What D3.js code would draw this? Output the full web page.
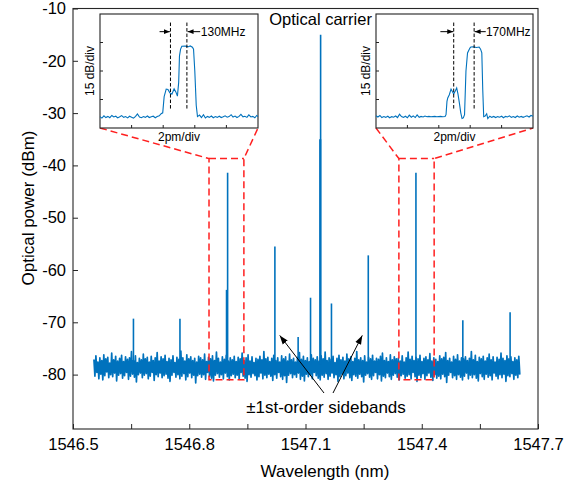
<!DOCTYPE html>
<html><head><meta charset="utf-8">
<script src="https://cdn.jsdelivr.net/npm/d3@7"></script>
<style>body{margin:0;background:#fff} text{font-family:"Liberation Sans",Arial,sans-serif;fill:#000}</style>
</head><body><svg id="c" width="580" height="491"></svg>
<script>
// ---------- data ----------
const xTicks = [1546.5,1546.65,1546.8,1546.95,1547.1,1547.25,1547.4,1547.55,1547.7];
const xTickLabels = ["1546.5","","1546.8","","1547.1","","1547.4","","1547.7"];
const yTicks = [-10,-20,-30,-40,-50,-60,-70,-80];
const yTickLabels = ["-10","-20","-30","-40","-50","-60","-70","-80"];

// spectral lines (wavelength nm, peak dBm)
const peakWl  = [1546.656,1546.776,1546.899,1547.021,1547.081,1547.113,1547.139,1547.167,1547.262,1547.385,1547.506,1547.628];
const peakDbm = [-69.3,-69.3,-41.4,-55.5,-72.8,-65.3,-15.0,-66.4,-57.2,-41.4,-69.6,-68.1];
// broader pedestals at the bottom of some lines
const pedWl  = [1546.897,1547.138];
const pedDbm = [-63.8,-35];
const lineBase = -78;

// noise floor trace (dBm), sampled evenly from noiseStart to noiseEnd
const noiseStart = 1546.554, noiseEnd = 1547.653;
const noise = [
-77.1,-80.3,-76.4,-79.6,-77.6,-80.8,-76.8,-79.9,-77.3,-81.0,-76.2,-80.2,
-77.0,-79.5,-76.7,-80.6,-77.8,-80.0,-75.9,-80.4,-77.2,-79.7,-76.5,-81.2,
-77.4,-80.1,-76.9,-79.8,-76.3,-80.7,-77.5,-80.2,-76.6,-79.6,-77.1,-80.9,
-76.8,-80.3,-75.6,-79.9,-77.3,-80.5,-76.4,-81.4,-77.7,-80.0,-76.9,-79.7,
-77.2,-80.6,-76.1,-80.1,-77.0,-79.8,-76.7,-80.8,-77.6,-80.3,-76.5,-79.6,
-77.3,-81.1,-76.8,-80.0,-75.8,-80.4,-77.4,-79.7,-76.6,-80.6,-77.0,-80.2,
-76.3,-79.9,-77.5,-80.7,-76.9,-81.3,-77.2,-80.1,-76.4,-79.6,-77.7,-80.5,
-76.7,-80.0,-77.1,-80.8,-75.5,-80.3,-76.8,-79.8,-77.4,-81.0,-76.2,-80.4,
-77.0,-79.7,-76.6,-80.6,-77.3,-80.1,-76.9,-81.6,-77.6,-80.2,-76.5,-79.9,
-76.8,-80.5,-77.2,-80.0,-76.1,-80.9,-77.5,-79.6,-76.7,-80.3,-77.0,-80.7,
-76.4,-81.2,-77.3,-80.1,-75.7,-79.8,-76.9,-80.5,-77.6,-80.0,-76.6,-80.8,
-77.1,-79.7,-76.3,-80.4,-77.4,-81.0,-76.8,-80.2,-77.2,-79.9,-76.5,-80.6,
-77.5,-80.1,-76.7,-80.9,-77.0,-79.6,-75.9,-80.3,-77.3,-80.7,-76.8,-81.3,
-76.2,-80.0,-77.4,-80.5,-76.6,-79.8,-77.7,-80.2,-76.9,-81.0,-77.1,-80.4,
-76.5,-79.7,-77.2,-80.8,-75.6,-80.1,-77.0,-80.6,-76.7,-79.9,-77.5,-80.3,
-76.9,-81.1,-76.3,-80.0,-77.3,-80.7,-76.8,-79.6,-77.6,-80.4,-76.4,-80.9,
-77.0,-80.2,-76.6,-81.5,-77.4,-80.1,-76.1,-79.8,-77.2,-80.6,-76.9,-80.0,
-77.6,-80.5,-76.7,-79.7,-75.8,-80.9,-77.1,-80.3,-76.5,-81.2,-77.3,-79.9,
-76.8,-80.4,-77.5,-80.0,-76.2,-80.8,-76.9,-79.6,-77.2,-80.2,-76.6,-80.7,
-77.4,-81.0,-76.4,-80.1,-77.0,-80.5,-75.7,-79.8,-77.3,-80.9,-76.8,-80.3,
-77.1,-79.7,-76.5,-80.6,-77.7,-80.0,-76.9,-81.3,-76.3,-80.4,-77.2,-79.9,
-76.7,-80.8,-77.4,-80.2,-76.1,-79.7,-77.0,-80.6,-76.6,-81.1,-77.5,-80.0,
-76.9,-80.3,-75.6,-80.7,-77.2,-79.9,-76.8,-80.4,-77.3,-81.4,-76.4,-80.1,
-77.6,-79.8,-76.7,-80.5,-77.0,-80.9,-76.3,-80.2,-77.4,-79.6,-76.9,-80.8,
-77.1,-80.0,-76.5,-81.2,-75.9,-80.3,-77.3,-80.6,-76.8,-79.7,-77.5,-80.4,
-76.2,-80.9,-77.2,-80.1,-76.6,-79.8,-77.0,-80.5,-76.9,-81.0,-77.4,-80.2,
-76.4,-79.9,-77.6,-80.7,-76.8,-80.3,-75.7,-80.0,-77.1,-80.8,-76.5,-79.6,
-77.3,-80.4,-76.7,-81.3,-77.0,-80.1,-76.3,-80.6,-77.5,-79.8,-76.9,-80.9,
-76.6,-80.2,-77.2,-79.7,-76.0,-80.5,-77.4,-81.1,-76.8,-80.0,-77.1,-80.7,
-77.5,-80.3,-76.4,-80.8,-77.0,-79.9,-76.7,-80.4,-75.8,-81.5,-77.3,-80.1,
-76.9,-79.6,-77.6,-80.6,-76.5,-80.2,-77.1,-80.9,-76.2,-80.0,-77.4,-80.5,
-76.8,-81.0,-77.0,-80.3,-76.6,-79.7,-77.3,-80.8,-76.9,-80.1,-75.6,-80.6,
-77.2,-80.0,-76.3,-80.7,-77.5,-81.2,-76.7,-79.8,-77.0,-80.4,-76.5,-80.9,
-77.4,-79.9,-76.8,-80.5,-76.1,-80.2,-77.2,-81.0,-76.6,-79.7,-77.6,-80.3,
-76.7,-80.8,-77.1,-80.0,-75.9,-80.6,-76.9,-79.9,-77.3,-81.3,-76.4,-80.2,
-77.0,-80.4,-76.6,-79.8,-77.5,-80.9,-76.8,-80.1,-77.2,-80.6,-76.5,-80.0];

// zoom boxes (wavelength range, dBm range)
const zoomBoxes = [
  {wl:[1546.851,1546.941], db:[-38.7,-81]},
  {wl:[1547.341,1547.432], db:[-38.7,-81]}
];

// inset traces: [pm, dB]
const insetLeftTrace = [[0,6.0],[0.12,5.2],[0.25,6.4],[0.37,5.5],[0.5,6.1],[0.62,5.4],[0.75,6.6],[0.87,5.8],[1.0,6.2],[1.12,5.3],[1.25,5.9],[1.37,6.5],[1.5,5.6],[1.62,6.0],[1.75,5.3],[1.87,6.2],[2.0,5.7],[2.12,5.2],[2.25,6.1],[2.37,7.4],[2.5,5.8],[2.62,5.4],[2.75,6.0],[2.87,5.6],[3.0,6.3],[3.12,5.5],[3.25,5.9],[3.37,6.2],[3.5,5.4],[3.62,6.0],[3.75,6.4],[3.87,7.5],
[3.97,8],[4.06,16.5],[4.19,20.5],[4.3,20.3],[4.42,18.5],[4.55,17.8],[4.69,20.6],[4.8,19],[4.9,16.8],[4.98,24],[5.03,38],[5.1,41.5],[5.18,43],[5.4,43.1],[5.6,42.8],[5.71,43.2],[5.85,42.5],[5.92,41.5],[6.0,30],[6.09,12],[6.17,6.0],
[6.3,6.8],[6.42,5.5],[6.55,7.0],[6.67,5.3],[6.8,6.1],[6.92,5.6],[7.05,6.3],[7.17,5.4],[7.3,6.0],[7.42,5.6],[7.55,6.2],[7.67,5.5],[7.8,5.9],[7.92,6.4],[8.05,5.7],[8.17,6.0],[8.3,7.0],[8.42,5.8],[8.55,6.3],[8.67,5.5],[8.8,6.1],[8.92,7.2],[9.05,5.9],[9.17,6.2],[9.3,5.6],[9.42,6.9],[9.55,5.8],[9.67,6.1],[9.8,5.4],[9.92,6.6],[10,6.0]];
const insetRightTrace = [[0,6.4],[0.12,5.8],[0.25,6.6],[0.37,5.5],[0.5,6.0],[0.62,5.6],[0.75,6.2],[0.87,5.4],[1.0,6.0],[1.12,5.7],[1.25,6.3],[1.37,5.5],[1.5,7.3],[1.62,6.0],[1.75,5.6],[1.87,6.2],[2.0,5.4],[2.12,6.8],[2.25,5.7],[2.37,6.4],[2.5,5.5],[2.62,6.9],[2.75,5.6],[2.87,6.1],[3.0,5.8],[3.12,6.3],[3.25,5.9],[3.37,6.1],[3.5,5.9],[3.62,6.0],[3.75,6.1],[3.87,5.9],[4.0,6.0],[4.12,6.1],[4.25,5.9],[4.4,6.0],
[4.46,7],[4.52,14],[4.57,15.8],[4.67,17.5],[4.78,20.5],[4.88,19],[4.95,17.9],[5.05,19.5],[5.14,21.1],[5.22,18],[5.31,13.2],[5.4,8],[5.48,5.0],[5.56,5.3],[5.64,7],[5.73,30],[5.83,39.5],[5.98,42.1],[6.04,42.6],[6.2,42.7],[6.4,42.4],[6.57,42.6],[6.66,41.5],[6.74,39.5],[6.8,20],[6.86,6.0],
[6.95,6.3],[7.05,7.5],[7.12,5.0],[7.25,6.2],[7.37,5.6],[7.5,6.1],[7.62,5.5],[7.75,6.0],[7.87,5.7],[8.0,6.2],[8.12,5.4],[8.25,6.1],[8.37,5.8],[8.5,6.4],[8.62,5.6],[8.75,6.0],[8.87,5.5],[9.0,6.3],[9.12,5.7],[9.25,6.1],[9.37,5.6],[9.5,6.0],[9.62,6.4],[9.75,5.8],[9.87,6.6],[10,6.2]];
const insets = [
  {trace: insetLeftTrace, dash:[4.46,5.5], arrowL:[3.77,4.42], arrowR:[6.34,5.54], label:"130MHz", labelX:6.38},
  {trace: insetRightTrace, dash:[4.95,6.25], arrowL:[4.1,4.92], arrowR:[6.99,6.28], label:"170MHz", labelX:7.0}
];
const insetXTicks = [2,4,6,8];
const insetYTicks = [15,30,45];

// ---------- drawing ----------
const blue = "#0072BD";
const svg = d3.select("#c");
const L = 73, R = 538, T = 8.5, B = 429;
const x = d3.scaleLinear().domain([1546.5,1547.7]).range([L,R]);
const y = d3.scaleLinear().domain([-10,-90.4]).range([T,B]);

const defs = svg.append("defs");
defs.append("marker").attr("id","ah").attr("viewBox","0 0 10 10").attr("refX",10).attr("refY",5)
  .attr("markerWidth",9).attr("markerHeight",9).attr("markerUnits","userSpaceOnUse").attr("orient","auto")
  .append("path").attr("d","M0,1.5 L10,5 L0,8.5 Z").attr("fill","#000");
defs.append("marker").attr("id","ahs").attr("viewBox","0 0 10 10").attr("refX",10).attr("refY",5)
  .attr("markerWidth",6).attr("markerHeight",6).attr("markerUnits","userSpaceOnUse").attr("orient","auto")
  .append("path").attr("d","M0,1 L10,5 L0,9 Z").attr("fill","#000");

// noise floor trace
const nStep = (noiseEnd - noiseStart)/(noise.length-1);
svg.append("path")
  .attr("d", d3.line().x((d,i)=>x(noiseStart+i*nStep)).y(d=>y(d))(noise))
  .attr("fill","none").attr("stroke",blue).attr("stroke-width",1.7).attr("stroke-linejoin","round");

// pedestals
svg.selectAll(".ped").data(pedWl).join("line").attr("class","ped")
  .attr("x1",d=>x(d)).attr("x2",d=>x(d))
  .attr("y1",y(lineBase)).attr("y2",(d,i)=>y(pedDbm[i]))
  .attr("stroke",blue).attr("stroke-width",2.2);
// spectral lines
svg.selectAll(".pk").data(peakWl).join("line").attr("class","pk")
  .attr("x1",d=>x(d)).attr("x2",d=>x(d))
  .attr("y1",y(lineBase)).attr("y2",(d,i)=>y(peakDbm[i]))
  .attr("stroke",blue).attr("stroke-width",1.6);

// axes
const xAxis = d3.axisBottom(x).tickValues(xTicks).tickSizeInner(-5).tickSizeOuter(0).tickPadding(9)
  .tickFormat((d,i)=>xTickLabels[i]);
const gx = svg.append("g").attr("transform",`translate(0,${B})`).call(xAxis);
const yAxis = d3.axisLeft(y).tickValues(yTicks).tickSizeInner(-5).tickSizeOuter(0).tickPadding(7)
  .tickFormat((d,i)=>yTickLabels[i]);
const gy = svg.append("g").attr("transform",`translate(${L},0)`).call(yAxis);
[gx,gy].forEach(g=>{
  g.select(".domain").remove();
  g.selectAll("line").attr("stroke","#262626");
  g.selectAll("text").attr("font-family","Liberation Sans, Arial, sans-serif").attr("font-size",16.5).attr("fill","#000");
});
svg.append("rect").attr("x",L).attr("y",T).attr("width",R-L).attr("height",B-T)
  .attr("fill","none").attr("stroke","#262626").attr("stroke-width",1.1);

// axis titles
svg.append("text").attr("x",325).attr("y",477).attr("text-anchor","middle").attr("font-size",17).text("Wavelength (nm)");
svg.append("text").attr("transform","translate(34,208) rotate(-90)").attr("text-anchor","middle").attr("font-size",17).text("Optical power (dBm)");

// annotations
svg.append("text").attr("x",x(1547.139)).attr("y",25).attr("text-anchor","middle").attr("font-size",16.5).text("Optical carrier");
svg.append("text").attr("x",326).attr("y",413).attr("text-anchor","middle").attr("font-size",17).text("±1st-order sidebands");
svg.append("line").attr("x1",324).attr("y1",393).attr("x2",x(1547.018)+6).attr("y2",y(-72.5))
  .attr("stroke","#000").attr("stroke-width",1).attr("marker-end","url(#ah)");
svg.append("line").attr("x1",333).attr("y1",393).attr("x2",x(1547.262)-6).attr("y2",y(-72.5))
  .attr("stroke","#000").attr("stroke-width",1).attr("marker-end","url(#ah)");

// inset boxes (layout)
const insetBoxes = [{l:100,r:258,t:14,b:128},{l:376,r:533,t:14,b:128}];

// red dashed zoom connectors
const red = "#ff2020";
zoomBoxes.forEach((zb,k)=>{
  const ib = insetBoxes[k];
  const x0 = x(zb.wl[0]), x1 = x(zb.wl[1]), y0 = y(zb.db[0]), y1 = y(zb.db[1]);
  const pts = [[ib.l,ib.b],[x0,y0],[x0,y1],[x1,y1],[x1,y0],[ib.r,ib.b]];
  svg.append("path").attr("d", d3.line()(pts) + `M${x0},${y0}L${x1},${y0}`)
    .attr("fill","none").attr("stroke",red).attr("stroke-width",1.5).attr("stroke-dasharray","7,4");
});

// insets
insets.forEach((ins,k)=>{
  const ib = insetBoxes[k];
  const ix = d3.scaleLinear().domain([0,10]).range([ib.l,ib.r]);
  const iy = d3.scaleLinear().domain([0,60]).range([ib.b,ib.t]);
  const g = svg.append("g");
  g.append("rect").attr("x",ib.l).attr("y",ib.t).attr("width",ib.r-ib.l).attr("height",ib.b-ib.t)
    .attr("fill","#fff").attr("stroke","#222").attr("stroke-width",1.1);
  g.selectAll(".xt").data(insetXTicks).join("line")
    .attr("x1",d=>ix(d)).attr("x2",d=>ix(d)).attr("y1",ib.b).attr("y2",ib.b-3).attr("stroke","#222");
  g.selectAll(".yt").data(insetYTicks).join("line")
    .attr("y1",d=>iy(d)).attr("y2",d=>iy(d)).attr("x1",ib.l).attr("x2",ib.l+3).attr("stroke","#222");
  g.append("path").attr("d", d3.line().x(d=>ix(d[0])).y(d=>iy(d[1]))(ins.trace))
    .attr("fill","none").attr("stroke",blue).attr("stroke-width",1.1);
  ins.dash.forEach(v=>{
    g.append("line").attr("x1",ix(v)).attr("x2",ix(v)).attr("y1",iy(55.5)).attr("y2",iy(9.5))
      .attr("stroke","#000").attr("stroke-width",1).attr("stroke-dasharray","3.5,2");
  });
  g.append("line").attr("x1",ix(ins.arrowL[0])).attr("x2",ix(ins.arrowL[1])).attr("y1",iy(50.7)).attr("y2",iy(50.7))
    .attr("stroke","#000").attr("stroke-width",1).attr("marker-end","url(#ahs)");
  g.append("line").attr("x1",ix(ins.arrowR[0])).attr("x2",ix(ins.arrowR[1])).attr("y1",iy(50.7)).attr("y2",iy(50.7))
    .attr("stroke","#000").attr("stroke-width",1).attr("marker-end","url(#ahs)");
  g.append("text").attr("x",ix(ins.labelX)).attr("y",iy(50.7)+4.3).attr("font-size",12).text(ins.label);
  g.append("text").attr("x",(ib.l+ib.r)/2).attr("y",ib.b+13).attr("text-anchor","middle").attr("font-size",12).text("2pm/div");
  g.append("text").attr("transform",`translate(${ib.l-6},${(ib.t+ib.b)/2}) rotate(-90)`).attr("text-anchor","middle").attr("font-size",12).text("15 dB/div");
});
</script></body></html>
